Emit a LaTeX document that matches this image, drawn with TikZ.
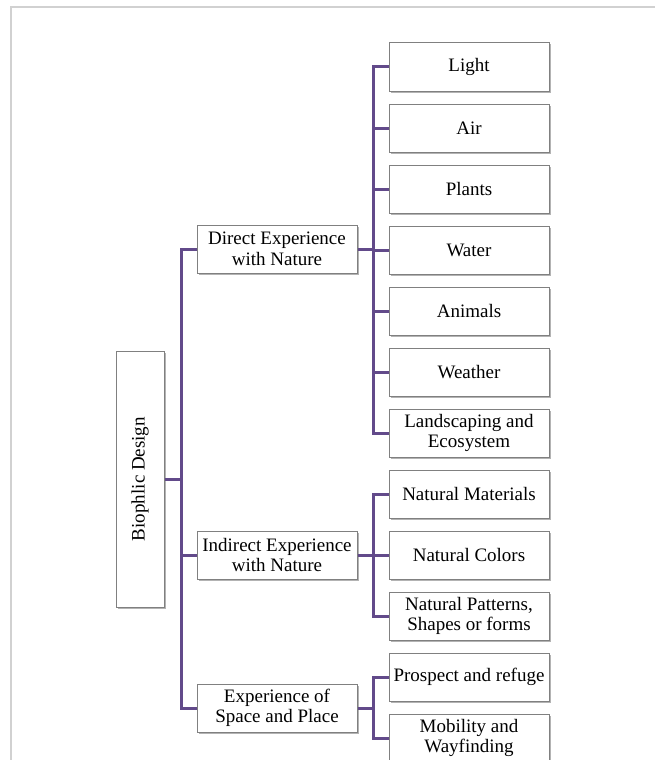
\documentclass[tikz,border=0pt]{standalone}
\usepackage{fontspec}
\setmainfont{Liberation Serif}
\usetikzlibrary{shadows}

\definecolor{linkpurple}{RGB}{98,74,138}
\definecolor{boxgray}{RGB}{128,128,128}

\tikzset{
  box/.style={draw=boxgray, line width=1pt, fill=white,
    minimum width=160pt, minimum height=48pt, inner sep=1pt, align=center,
    font=\fontsize{19}{20.5}\selectfont,
    drop shadow={shadow xshift=1.5pt, shadow yshift=-1.5pt, fill=black!50, opacity=.6}},
  link/.style={draw=linkpurple, line width=3pt},
  frame/.style={draw=black!18, line width=1.5pt}
}

\begin{document}
\begin{tikzpicture}[x=1pt,y=-1pt]
\useasboundingbox (0,0) rectangle (654,760);
\draw[frame] (670,7) -| (11,770);

% root
\node[box, minimum width=48pt, minimum height=256pt] (root) at (140,479) {\rotatebox{90}{Biophlic Design}};

% first level
\node[box] (direct) at (277,249) {Direct Experience\\with Nature};
\node[box] (indirect) at (277,555) {Indirect Experience\\with Nature};
\node[box] (space) at (277,708) {Experience of\\Space and Place};

% second level
\node[box] (light) at (469,67) {Light};
\node[box] (air) at (469,128) {Air};
\node[box] (plants) at (469,189) {Plants};
\node[box] (water) at (469,250) {Water};
\node[box] (animals) at (469,311) {Animals};
\node[box] (weather) at (469,372) {Weather};
\node[box] (land) at (469,433) {Landscaping and\\Ecosystem};
\node[box] (materials) at (469,494) {Natural Materials};
\node[box] (colors) at (469,555) {Natural Colors};
\node[box] (patterns) at (469,616) {Natural Patterns,\\Shapes or forms};
\node[box] (prospect) at (469,677) {Prospect and refuge};
\node[box] (mobility) at (469,738) {Mobility and\\Wayfinding};

\coordinate (trunk) at (181,0);
\coordinate (branch) at (373,0);

% root to first level
\draw[link] (root.east) -- (root.east -| trunk);
\draw[link] (direct.west) -| (trunk |- space.west) -- (space.west);
\draw[link] (indirect.west) -- (indirect.west -| trunk);

% direct experience
\draw[link] (direct.east) -- (direct.east -| branch);
\draw[link] (light.west) -| (branch |- land.west) -- (land.west);
\draw[link] (air.west) -- (air.west -| branch);
\draw[link] (plants.west) -- (plants.west -| branch);
\draw[link] (water.west) -- (water.west -| branch);
\draw[link] (animals.west) -- (animals.west -| branch);
\draw[link] (weather.west) -- (weather.west -| branch);

% indirect experience
\draw[link] (indirect.east) -- (indirect.east -| branch);
\draw[link] (materials.west) -| (branch |- patterns.west) -- (patterns.west);
\draw[link] (colors.west) -- (colors.west -| branch);

% space and place
\draw[link] (space.east) -- (space.east -| branch);
\draw[link] (prospect.west) -| (branch |- mobility.west) -- (mobility.west);
\end{tikzpicture}
\end{document}
